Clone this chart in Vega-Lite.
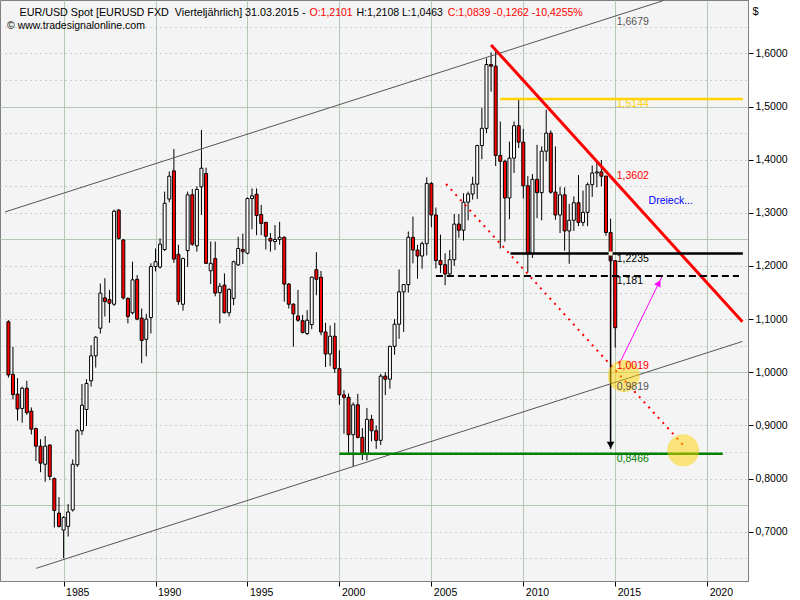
{
  "$schema": "https://vega.github.io/schema/vega-lite/v6.json",
  "width": 748,
  "height": 581,
  "autosize": "none",
  "padding": {"left": 0, "top": 0, "right": 52, "bottom": 19},
  "background": "#ffffff",
  "title": {
    "text": "© www.tradesignalonline.com",
    "anchor": "start",
    "frame": "group",
    "orient": "top",
    "offset": -33,
    "dx": 7,
    "fontSize": 10.5,
    "fontWeight": "normal",
    "color": "#000000"
  },
  "datasets": {
    "candles": [
      {"d": "1982-01-01", "o": 1.095, "h": 1.098, "l": 0.990, "c": 0.995},
      {"d": "1982-04-01", "o": 0.996, "h": 1.048, "l": 0.949, "c": 0.958},
      {"d": "1982-07-01", "o": 0.959, "h": 0.989, "l": 0.909, "c": 0.931},
      {"d": "1982-10-01", "o": 0.932, "h": 0.973, "l": 0.905, "c": 0.970},
      {"d": "1983-01-01", "o": 0.970, "h": 0.984, "l": 0.920, "c": 0.924},
      {"d": "1983-04-01", "o": 0.927, "h": 0.934, "l": 0.883, "c": 0.893},
      {"d": "1983-07-01", "o": 0.894, "h": 0.896, "l": 0.833, "c": 0.861},
      {"d": "1983-10-01", "o": 0.861, "h": 0.874, "l": 0.812, "c": 0.829},
      {"d": "1984-01-01", "o": 0.827, "h": 0.880, "l": 0.794, "c": 0.861},
      {"d": "1984-04-01", "o": 0.863, "h": 0.865, "l": 0.797, "c": 0.804},
      {"d": "1984-07-01", "o": 0.800, "h": 0.802, "l": 0.708, "c": 0.740},
      {"d": "1984-10-01", "o": 0.735, "h": 0.765, "l": 0.708, "c": 0.710},
      {"d": "1985-01-01", "o": 0.703, "h": 0.729, "l": 0.650, "c": 0.727},
      {"d": "1985-04-01", "o": 0.710, "h": 0.752, "l": 0.691, "c": 0.737},
      {"d": "1985-07-01", "o": 0.741, "h": 0.836, "l": 0.738, "c": 0.827},
      {"d": "1985-10-01", "o": 0.826, "h": 0.893, "l": 0.822, "c": 0.890},
      {"d": "1986-01-01", "o": 0.890, "h": 0.978, "l": 0.882, "c": 0.938},
      {"d": "1986-04-01", "o": 0.930, "h": 0.987, "l": 0.899, "c": 0.979},
      {"d": "1986-07-01", "o": 0.984, "h": 1.051, "l": 0.973, "c": 1.031},
      {"d": "1986-10-01", "o": 1.031, "h": 1.068, "l": 1.009, "c": 1.066},
      {"d": "1987-01-01", "o": 1.083, "h": 1.167, "l": 1.073, "c": 1.149},
      {"d": "1987-04-01", "o": 1.140, "h": 1.177, "l": 1.105, "c": 1.133},
      {"d": "1987-07-01", "o": 1.137, "h": 1.155, "l": 1.093, "c": 1.130},
      {"d": "1987-10-01", "o": 1.128, "h": 1.306, "l": 1.125, "c": 1.303},
      {"d": "1988-01-01", "o": 1.305, "h": 1.307, "l": 1.250, "c": 1.252},
      {"d": "1988-04-01", "o": 1.249, "h": 1.251, "l": 1.137, "c": 1.140},
      {"d": "1988-07-01", "o": 1.139, "h": 1.141, "l": 1.092, "c": 1.105},
      {"d": "1988-10-01", "o": 1.112, "h": 1.208, "l": 1.109, "c": 1.174},
      {"d": "1989-01-01", "o": 1.175, "h": 1.183, "l": 1.098, "c": 1.100},
      {"d": "1989-04-01", "o": 1.102, "h": 1.120, "l": 1.017, "c": 1.060},
      {"d": "1989-07-01", "o": 1.062, "h": 1.110, "l": 1.030, "c": 1.100},
      {"d": "1989-10-01", "o": 1.103, "h": 1.205, "l": 1.073, "c": 1.199},
      {"d": "1990-01-01", "o": 1.199, "h": 1.233, "l": 1.190, "c": 1.208},
      {"d": "1990-04-01", "o": 1.198, "h": 1.252, "l": 1.195, "c": 1.241},
      {"d": "1990-07-01", "o": 1.231, "h": 1.340, "l": 1.228, "c": 1.318},
      {"d": "1990-10-01", "o": 1.326, "h": 1.378, "l": 1.320, "c": 1.369},
      {"d": "1991-01-01", "o": 1.379, "h": 1.420, "l": 1.206, "c": 1.213},
      {"d": "1991-04-01", "o": 1.222, "h": 1.240, "l": 1.127, "c": 1.133},
      {"d": "1991-07-01", "o": 1.128, "h": 1.216, "l": 1.116, "c": 1.214},
      {"d": "1991-10-01", "o": 1.229, "h": 1.340, "l": 1.198, "c": 1.334},
      {"d": "1992-01-01", "o": 1.334, "h": 1.345, "l": 1.238, "c": 1.241},
      {"d": "1992-04-01", "o": 1.238, "h": 1.350, "l": 1.227, "c": 1.344},
      {"d": "1992-07-01", "o": 1.349, "h": 1.456, "l": 1.296, "c": 1.384},
      {"d": "1992-10-01", "o": 1.374, "h": 1.385, "l": 1.204, "c": 1.205},
      {"d": "1993-01-01", "o": 1.191, "h": 1.246, "l": 1.166, "c": 1.205},
      {"d": "1993-04-01", "o": 1.214, "h": 1.246, "l": 1.143, "c": 1.149},
      {"d": "1993-07-01", "o": 1.150, "h": 1.168, "l": 1.092, "c": 1.162},
      {"d": "1993-10-01", "o": 1.164, "h": 1.186, "l": 1.111, "c": 1.112},
      {"d": "1994-01-01", "o": 1.112, "h": 1.158, "l": 1.105, "c": 1.156},
      {"d": "1994-04-01", "o": 1.139, "h": 1.210, "l": 1.126, "c": 1.208},
      {"d": "1994-07-01", "o": 1.202, "h": 1.255, "l": 1.200, "c": 1.233},
      {"d": "1994-10-01", "o": 1.231, "h": 1.261, "l": 1.204, "c": 1.227},
      {"d": "1995-01-01", "o": 1.224, "h": 1.329, "l": 1.222, "c": 1.327},
      {"d": "1995-04-01", "o": 1.327, "h": 1.346, "l": 1.269, "c": 1.332},
      {"d": "1995-07-01", "o": 1.335, "h": 1.346, "l": 1.258, "c": 1.295},
      {"d": "1995-10-01", "o": 1.297, "h": 1.315, "l": 1.258, "c": 1.280},
      {"d": "1996-01-01", "o": 1.282, "h": 1.283, "l": 1.231, "c": 1.256},
      {"d": "1996-04-01", "o": 1.252, "h": 1.262, "l": 1.227, "c": 1.247},
      {"d": "1996-07-01", "o": 1.246, "h": 1.277, "l": 1.230, "c": 1.250},
      {"d": "1996-10-01", "o": 1.250, "h": 1.283, "l": 1.240, "c": 1.254},
      {"d": "1997-01-01", "o": 1.254, "h": 1.256, "l": 1.133, "c": 1.166},
      {"d": "1997-04-01", "o": 1.166, "h": 1.168, "l": 1.120, "c": 1.128},
      {"d": "1997-07-01", "o": 1.128, "h": 1.130, "l": 1.048, "c": 1.110},
      {"d": "1997-10-01", "o": 1.106, "h": 1.155, "l": 1.095, "c": 1.098},
      {"d": "1998-01-01", "o": 1.097, "h": 1.108, "l": 1.073, "c": 1.075},
      {"d": "1998-04-01", "o": 1.073, "h": 1.117, "l": 1.070, "c": 1.098},
      {"d": "1998-07-01", "o": 1.090, "h": 1.180, "l": 1.081, "c": 1.179},
      {"d": "1998-10-01", "o": 1.193, "h": 1.226, "l": 1.145, "c": 1.175},
      {"d": "1999-01-01", "o": 1.1789, "h": 1.1907, "l": 1.0697, "c": 1.0759},
      {"d": "1999-04-01", "o": 1.0759, "h": 1.0930, "l": 1.0100, "c": 1.0344},
      {"d": "1999-07-01", "o": 1.0344, "h": 1.0880, "l": 1.0115, "c": 1.0679},
      {"d": "1999-10-01", "o": 1.0679, "h": 1.0930, "l": 0.9987, "c": 1.0070},
      {"d": "2000-01-01", "o": 1.0070, "h": 1.0414, "l": 0.9388, "c": 0.9574},
      {"d": "2000-04-01", "o": 0.9574, "h": 0.9665, "l": 0.8844, "c": 0.9528},
      {"d": "2000-07-01", "o": 0.9528, "h": 0.9600, "l": 0.8455, "c": 0.8826},
      {"d": "2000-10-01", "o": 0.8826, "h": 0.9434, "l": 0.8228, "c": 0.9388},
      {"d": "2001-01-01", "o": 0.9388, "h": 0.9594, "l": 0.8755, "c": 0.8776},
      {"d": "2001-04-01", "o": 0.8776, "h": 0.8950, "l": 0.8348, "c": 0.8475},
      {"d": "2001-07-01", "o": 0.8475, "h": 0.9330, "l": 0.8344, "c": 0.9114},
      {"d": "2001-10-01", "o": 0.9114, "h": 0.9200, "l": 0.8700, "c": 0.8900},
      {"d": "2002-01-01", "o": 0.8900, "h": 0.9000, "l": 0.8560, "c": 0.8720},
      {"d": "2002-04-01", "o": 0.8720, "h": 0.9970, "l": 0.8630, "c": 0.9928},
      {"d": "2002-07-01", "o": 0.9928, "h": 1.0000, "l": 0.9570, "c": 0.9870},
      {"d": "2002-10-01", "o": 0.9870, "h": 1.0500, "l": 0.9690, "c": 1.0488},
      {"d": "2003-01-01", "o": 1.0488, "h": 1.1000, "l": 1.0330, "c": 1.0905},
      {"d": "2003-04-01", "o": 1.0905, "h": 1.1935, "l": 1.0630, "c": 1.1513},
      {"d": "2003-07-01", "o": 1.1513, "h": 1.1660, "l": 1.0760, "c": 1.1650},
      {"d": "2003-10-01", "o": 1.1650, "h": 1.2650, "l": 1.1500, "c": 1.2540},
      {"d": "2004-01-01", "o": 1.2540, "h": 1.2930, "l": 1.2050, "c": 1.2301},
      {"d": "2004-04-01", "o": 1.2301, "h": 1.2400, "l": 1.1760, "c": 1.2188},
      {"d": "2004-07-01", "o": 1.2188, "h": 1.2460, "l": 1.1950, "c": 1.2420},
      {"d": "2004-10-01", "o": 1.2420, "h": 1.3667, "l": 1.2200, "c": 1.3554},
      {"d": "2005-01-01", "o": 1.3554, "h": 1.3580, "l": 1.2730, "c": 1.2960},
      {"d": "2005-04-01", "o": 1.2960, "h": 1.3100, "l": 1.1955, "c": 1.2103},
      {"d": "2005-07-01", "o": 1.2103, "h": 1.2590, "l": 1.1870, "c": 1.2025},
      {"d": "2005-10-01", "o": 1.2025, "h": 1.2240, "l": 1.1640, "c": 1.1849},
      {"d": "2006-01-01", "o": 1.1849, "h": 1.2300, "l": 1.1800, "c": 1.2119},
      {"d": "2006-04-01", "o": 1.2119, "h": 1.2980, "l": 1.2000, "c": 1.2789},
      {"d": "2006-07-01", "o": 1.2789, "h": 1.2980, "l": 1.2530, "c": 1.2673},
      {"d": "2006-10-01", "o": 1.2673, "h": 1.3370, "l": 1.2480, "c": 1.3201},
      {"d": "2007-01-01", "o": 1.3201, "h": 1.3400, "l": 1.2860, "c": 1.3354},
      {"d": "2007-04-01", "o": 1.3354, "h": 1.3680, "l": 1.3250, "c": 1.3541},
      {"d": "2007-07-01", "o": 1.3541, "h": 1.4280, "l": 1.3260, "c": 1.4266},
      {"d": "2007-10-01", "o": 1.4266, "h": 1.4970, "l": 1.4010, "c": 1.4590},
      {"d": "2008-01-01", "o": 1.4590, "h": 1.5905, "l": 1.4500, "c": 1.5790},
      {"d": "2008-04-01", "o": 1.5790, "h": 1.6020, "l": 1.5280, "c": 1.5760},
      {"d": "2008-07-01", "o": 1.5760, "h": 1.6038, "l": 1.3880, "c": 1.4080},
      {"d": "2008-10-01", "o": 1.4080, "h": 1.4720, "l": 1.2330, "c": 1.3970},
      {"d": "2009-01-01", "o": 1.3970, "h": 1.4000, "l": 1.2457, "c": 1.3280},
      {"d": "2009-04-01", "o": 1.3280, "h": 1.4340, "l": 1.2880, "c": 1.4030},
      {"d": "2009-07-01", "o": 1.4030, "h": 1.4720, "l": 1.3750, "c": 1.4640},
      {"d": "2009-10-01", "o": 1.4640, "h": 1.5144, "l": 1.4220, "c": 1.4330},
      {"d": "2010-01-01", "o": 1.4330, "h": 1.4580, "l": 1.3270, "c": 1.3510},
      {"d": "2010-04-01", "o": 1.3510, "h": 1.3690, "l": 1.1876, "c": 1.2230},
      {"d": "2010-07-01", "o": 1.2230, "h": 1.3730, "l": 1.2150, "c": 1.3630},
      {"d": "2010-10-01", "o": 1.3630, "h": 1.4280, "l": 1.2900, "c": 1.3380},
      {"d": "2011-01-01", "o": 1.3380, "h": 1.4250, "l": 1.2860, "c": 1.4160},
      {"d": "2011-04-01", "o": 1.4160, "h": 1.4940, "l": 1.3970, "c": 1.4500},
      {"d": "2011-07-01", "o": 1.4500, "h": 1.4550, "l": 1.3360, "c": 1.3390},
      {"d": "2011-10-01", "o": 1.3390, "h": 1.4250, "l": 1.2870, "c": 1.2960},
      {"d": "2012-01-01", "o": 1.2960, "h": 1.3490, "l": 1.2620, "c": 1.3340},
      {"d": "2012-04-01", "o": 1.3340, "h": 1.3480, "l": 1.2290, "c": 1.2660},
      {"d": "2012-07-01", "o": 1.2660, "h": 1.3170, "l": 1.2042, "c": 1.2860},
      {"d": "2012-10-01", "o": 1.2860, "h": 1.3310, "l": 1.2660, "c": 1.3190},
      {"d": "2013-01-01", "o": 1.3190, "h": 1.3710, "l": 1.2750, "c": 1.2820},
      {"d": "2013-04-01", "o": 1.2820, "h": 1.3420, "l": 1.2750, "c": 1.3010},
      {"d": "2013-07-01", "o": 1.3010, "h": 1.3570, "l": 1.2750, "c": 1.3530},
      {"d": "2013-10-01", "o": 1.3530, "h": 1.3890, "l": 1.3300, "c": 1.3750},
      {"d": "2014-01-01", "o": 1.3750, "h": 1.3970, "l": 1.3480, "c": 1.3770},
      {"d": "2014-04-01", "o": 1.3770, "h": 1.3995, "l": 1.3500, "c": 1.3690},
      {"d": "2014-07-01", "o": 1.3690, "h": 1.3700, "l": 1.2570, "c": 1.2630},
      {"d": "2014-10-01", "o": 1.2630, "h": 1.2890, "l": 1.2050, "c": 1.2098},
      {"d": "2015-01-01", "o": 1.2101, "h": 1.2108, "l": 1.0463, "c": 1.0839}
    ],
    "lines": [
      {"line": "Kanal oben", "d": "1981-10-26", "p": 1.3017},
      {"line": "Kanal oben", "d": "2017-08-20", "p": 1.6995},
      {"line": "Kanal unten", "d": "1983-07-08", "p": 0.6312},
      {"line": "Kanal unten", "d": "2021-12-01", "p": 1.0580},
      {"line": "1,5144", "d": "2008-10-01", "p": 1.5144},
      {"line": "1,5144", "d": "2021-12-10", "p": 1.5144},
      {"line": "Dreieck", "d": "2008-04-01", "p": 1.6159},
      {"line": "Dreieck", "d": "2021-12-01", "p": 1.0950},
      {"line": "1,2235", "d": "2009-04-20", "p": 1.2235},
      {"line": "1,2235", "d": "2021-12-10", "p": 1.2235},
      {"line": "1,181", "d": "2005-04-01", "p": 1.181},
      {"line": "1,181", "d": "2021-09-24", "p": 1.181},
      {"line": "Ziel", "d": "2005-10-20", "p": 1.3543},
      {"line": "Ziel", "d": "2018-10-12", "p": 0.8600},
      {"line": "0,8466", "d": "2000-01-01", "p": 0.8466},
      {"line": "0,8466", "d": "2020-11-06", "p": 0.8466},
      {"line": "Pullback", "d": "2015-02-24", "p": 1.0105},
      {"line": "Pullback", "d": "2017-07-13", "p": 1.1793},
      {"line": "Abwärts", "d": "2014-10-01", "p": 1.2235},
      {"line": "Abwärts", "d": "2014-10-01", "p": 0.8560}
    ],
    "heads": [
      {"head": "Abwärts", "d": "2014-10-01", "p": 0.8632},
      {"head": "Pullback", "d": "2017-05-16", "p": 1.1680}
    ],
    "circles": [
      {"d": "2015-06-20", "p": 0.993},
      {"d": "2018-09-12", "p": 0.8532}
    ],
    "anchors": [
      {"d": "2014-10-01", "p": 1.2235},
      {"d": "2015-02-24", "p": 1.0105}
    ],
    "labels": [
      {"t": "1,6679", "d": "2015-01-01", "p": 1.6679},
      {"t": "1,5144", "d": "2015-01-01", "p": 1.5144},
      {"t": "1,3602", "d": "2015-01-01", "p": 1.3602},
      {"t": "1,2235", "d": "2015-01-01", "p": 1.2235},
      {"t": "1,181", "d": "2015-01-01", "p": 1.181},
      {"t": "1,0019", "d": "2015-01-01", "p": 1.0019},
      {"t": "0,9819", "d": "2015-01-01", "p": 0.9819},
      {"t": "0,8466", "d": "2015-01-01", "p": 0.8466},
      {"t": "Dreieck...", "d": "2016-10-25", "p": 1.3223}
    ]
  },
  "layer": [
    {
      "layer": [
        {
          "data": {"name": "candles"},
          "mark": {"type": "rule", "color": "#000000", "strokeWidth": 1},
          "encoding": {
            "x": {
              "field": "d", "type": "temporal",
              "scale": {"type": "utc", "domain": [{"year": 1981, "month": 10, "date": 25, "utc": true}, {"year": 2021, "month": 12, "date": 13, "utc": true}]},
              "axis": {
                "orient": "bottom",
                "values": [{"year": 1985, "utc": true}, {"year": 1990, "utc": true}, {"year": 1995, "utc": true}, {"year": 2000, "utc": true}, {"year": 2005, "utc": true}, {"year": 2010, "utc": true}, {"year": 2015, "utc": true}, {"year": 2020, "utc": true}],
                "format": "%Y",
                "grid": true, "gridColor": "#b4c8b4", "gridWidth": 1,
                "domainColor": "#808080", "tickColor": "#000000", "tickSize": 5,
                "labelAlign": "left", "labelBaseline": "top", "labelPadding": 1, "labelOffset": 2,
                "labelFontSize": 10.5, "labelColor": "#000000", "labelFlush": false, "labelOverlap": false,
                "title": "O:1,2101", "titleColor": "#ff0000", "titleFontSize": 10.5, "titleFontWeight": "normal",
                "titleX": 309, "titleY": -565.5, "titleAlign": "left", "titleBaseline": "alphabetic"
              }
            },
            "y": {
              "field": "l", "type": "quantitative",
              "scale": {"domain": [0.6073, 1.7005], "zero": false, "nice": false},
              "axis": {
                "orient": "right",
                "values": [0.7, 0.8, 0.9, 1.0, 1.1, 1.2, 1.3, 1.4, 1.5, 1.6],
                "format": ".4f",
                "labelExpr": "replace(datum.label, '.', ',')",
                "grid": false,
                "ticks": true, "tickColor": "#000000", "tickSize": 5, "domainColor": "#808080",
                "labels": true, "labelPadding": 2, "labelAlign": "left", "labelBaseline": "middle",
                "labelFontSize": 10.5, "labelColor": "#000000", "labelFlush": false, "labelOverlap": false,
                "title": "$", "titleAngle": 0, "titleX": 4, "titleY": 14, "titleAlign": "left", "titleBaseline": "alphabetic",
                "titleFontSize": 11, "titleFontWeight": "normal", "titleColor": "#000000"
              }
            },
            "y2": {"field": "h"}
          }
        },
        {
          "data": {"name": "candles"},
          "mark": {"type": "bar", "size": 3, "stroke": "#000000", "strokeWidth": 1},
          "encoding": {
            "x": {"field": "d", "type": "temporal", "scale": {"type": "utc", "domain": [{"year": 1981, "month": 10, "date": 25, "utc": true}, {"year": 2021, "month": 12, "date": 13, "utc": true}]}},
            "y": {"field": "o", "type": "quantitative", "scale": {"domain": [0.6073, 1.7005], "zero": false, "nice": false}},
            "y2": {"field": "c"},
            "fill": {"condition": {"test": "datum.c < datum.o", "value": "#ff0000"}, "value": "#ffffff"}
          }
        },
        {
          "data": {"name": "lines"},
          "transform": [{"filter": "datum.line == 'Kanal oben' || datum.line == 'Kanal unten'"}],
          "mark": {"type": "line", "color": "#555555", "strokeWidth": 1},
          "encoding": {
            "x": {"field": "d", "type": "temporal", "scale": {"type": "utc", "domain": [{"year": 1981, "month": 10, "date": 25, "utc": true}, {"year": 2021, "month": 12, "date": 13, "utc": true}]}},
            "y": {"field": "p", "type": "quantitative", "scale": {"domain": [0.6073, 1.7005], "zero": false, "nice": false}},
            "detail": {"field": "line"}
          }
        },
        {
          "data": {"name": "lines"},
          "transform": [{"filter": "datum.line == '1,5144'"}],
          "mark": {"type": "line", "color": "#ffd200", "strokeWidth": 2.5},
          "encoding": {
            "x": {"field": "d", "type": "temporal", "scale": {"type": "utc", "domain": [{"year": 1981, "month": 10, "date": 25, "utc": true}, {"year": 2021, "month": 12, "date": 13, "utc": true}]}},
            "y": {"field": "p", "type": "quantitative", "scale": {"domain": [0.6073, 1.7005], "zero": false, "nice": false}}
          }
        },
        {
          "data": {"name": "lines"},
          "transform": [{"filter": "datum.line == 'Dreieck'"}],
          "mark": {"type": "line", "color": "#ff0000", "strokeWidth": 3},
          "encoding": {
            "x": {"field": "d", "type": "temporal", "scale": {"type": "utc", "domain": [{"year": 1981, "month": 10, "date": 25, "utc": true}, {"year": 2021, "month": 12, "date": 13, "utc": true}]}},
            "y": {"field": "p", "type": "quantitative", "scale": {"domain": [0.6073, 1.7005], "zero": false, "nice": false}}
          }
        },
        {
          "data": {"name": "lines"},
          "transform": [{"filter": "datum.line == '1,2235'"}],
          "mark": {"type": "line", "color": "#000000", "strokeWidth": 2.5},
          "encoding": {
            "x": {"field": "d", "type": "temporal", "scale": {"type": "utc", "domain": [{"year": 1981, "month": 10, "date": 25, "utc": true}, {"year": 2021, "month": 12, "date": 13, "utc": true}]}},
            "y": {"field": "p", "type": "quantitative", "scale": {"domain": [0.6073, 1.7005], "zero": false, "nice": false}}
          }
        },
        {
          "data": {"name": "lines"},
          "transform": [{"filter": "datum.line == '1,181'"}],
          "mark": {"type": "line", "color": "#000000", "strokeWidth": 2, "strokeDash": [7, 4]},
          "encoding": {
            "x": {"field": "d", "type": "temporal", "scale": {"type": "utc", "domain": [{"year": 1981, "month": 10, "date": 25, "utc": true}, {"year": 2021, "month": 12, "date": 13, "utc": true}]}},
            "y": {"field": "p", "type": "quantitative", "scale": {"domain": [0.6073, 1.7005], "zero": false, "nice": false}}
          }
        },
        {
          "data": {"name": "lines"},
          "transform": [{"filter": "datum.line == 'Ziel'"}],
          "mark": {"type": "line", "color": "#ff0000", "strokeWidth": 2, "strokeDash": [2, 5]},
          "encoding": {
            "x": {"field": "d", "type": "temporal", "scale": {"type": "utc", "domain": [{"year": 1981, "month": 10, "date": 25, "utc": true}, {"year": 2021, "month": 12, "date": 13, "utc": true}]}},
            "y": {"field": "p", "type": "quantitative", "scale": {"domain": [0.6073, 1.7005], "zero": false, "nice": false}}
          }
        },
        {
          "data": {"name": "lines"},
          "transform": [{"filter": "datum.line == '0,8466'"}],
          "mark": {"type": "line", "color": "#008000", "strokeWidth": 2.5},
          "encoding": {
            "x": {"field": "d", "type": "temporal", "scale": {"type": "utc", "domain": [{"year": 1981, "month": 10, "date": 25, "utc": true}, {"year": 2021, "month": 12, "date": 13, "utc": true}]}},
            "y": {"field": "p", "type": "quantitative", "scale": {"domain": [0.6073, 1.7005], "zero": false, "nice": false}}
          }
        },
        {
          "data": {"name": "lines"},
          "transform": [{"filter": "datum.line == 'Pullback'"}],
          "mark": {"type": "line", "color": "#ff00ff", "strokeWidth": 1},
          "encoding": {
            "x": {"field": "d", "type": "temporal", "scale": {"type": "utc", "domain": [{"year": 1981, "month": 10, "date": 25, "utc": true}, {"year": 2021, "month": 12, "date": 13, "utc": true}]}},
            "y": {"field": "p", "type": "quantitative", "scale": {"domain": [0.6073, 1.7005], "zero": false, "nice": false}}
          }
        },
        {
          "data": {"name": "lines"},
          "transform": [{"filter": "datum.line == 'Abwärts'"}],
          "mark": {"type": "line", "color": "#000000", "strokeWidth": 1.5},
          "encoding": {
            "x": {"field": "d", "type": "temporal", "scale": {"type": "utc", "domain": [{"year": 1981, "month": 10, "date": 25, "utc": true}, {"year": 2021, "month": 12, "date": 13, "utc": true}]}},
            "y": {"field": "p", "type": "quantitative", "scale": {"domain": [0.6073, 1.7005], "zero": false, "nice": false}}
          }
        },
        {
          "data": {"name": "heads"},
          "transform": [{"filter": "datum.head == 'Abwärts'"}],
          "mark": {"type": "point", "shape": "triangle-down", "filled": true, "color": "#000000", "size": 60, "opacity": 1},
          "encoding": {
            "x": {"field": "d", "type": "temporal", "scale": {"type": "utc", "domain": [{"year": 1981, "month": 10, "date": 25, "utc": true}, {"year": 2021, "month": 12, "date": 13, "utc": true}]}},
            "y": {"field": "p", "type": "quantitative", "scale": {"domain": [0.6073, 1.7005], "zero": false, "nice": false}}
          }
        },
        {
          "data": {"name": "heads"},
          "transform": [{"filter": "datum.head == 'Pullback'"}],
          "mark": {"type": "point", "shape": "triangle-up", "filled": true, "color": "#ff00ff", "size": 55, "angle": 27, "opacity": 1},
          "encoding": {
            "x": {"field": "d", "type": "temporal", "scale": {"type": "utc", "domain": [{"year": 1981, "month": 10, "date": 25, "utc": true}, {"year": 2021, "month": 12, "date": 13, "utc": true}]}},
            "y": {"field": "p", "type": "quantitative", "scale": {"domain": [0.6073, 1.7005], "zero": false, "nice": false}}
          }
        },
        {
          "data": {"name": "circles"},
          "mark": {"type": "point", "shape": "circle", "filled": true, "color": "#ffd400", "size": 1024, "opacity": 0.5},
          "encoding": {
            "x": {"field": "d", "type": "temporal", "scale": {"type": "utc", "domain": [{"year": 1981, "month": 10, "date": 25, "utc": true}, {"year": 2021, "month": 12, "date": 13, "utc": true}]}},
            "y": {"field": "p", "type": "quantitative", "scale": {"domain": [0.6073, 1.7005], "zero": false, "nice": false}}
          }
        },
        {
          "data": {"name": "anchors"},
          "mark": {"type": "point", "shape": "square", "filled": true, "color": "#fffbe0", "size": 16, "opacity": 1},
          "encoding": {
            "x": {"field": "d", "type": "temporal", "scale": {"type": "utc", "domain": [{"year": 1981, "month": 10, "date": 25, "utc": true}, {"year": 2021, "month": 12, "date": 13, "utc": true}]}},
            "y": {"field": "p", "type": "quantitative", "scale": {"domain": [0.6073, 1.7005], "zero": false, "nice": false}}
          }
        },
        {
          "data": {"name": "labels"},
          "transform": [{"filter": "datum.t != '1,3602' && datum.t != '1,0019' && datum.t != 'Dreieck...'"}],
          "mark": {"type": "text", "align": "left", "baseline": "top", "dx": 1.5, "fontSize": 10.5},
          "encoding": {
            "x": {"field": "d", "type": "temporal", "scale": {"type": "utc", "domain": [{"year": 1981, "month": 10, "date": 25, "utc": true}, {"year": 2021, "month": 12, "date": 13, "utc": true}]}},
            "y": {"field": "p", "type": "quantitative", "scale": {"domain": [0.6073, 1.7005], "zero": false, "nice": false}},
            "text": {"field": "t"},
            "color": {
              "field": "t", "type": "nominal", "legend": null,
              "scale": {"domain": ["1,6679", "1,5144", "1,2235", "1,181", "0,9819", "0,8466"], "range": ["#555555", "#ffd200", "#000000", "#000000", "#555555", "#008000"]}
            }
          }
        },
        {
          "data": {"name": "labels"},
          "transform": [{"filter": "datum.t == '1,3602' || datum.t == '1,0019'"}],
          "mark": {"type": "text", "align": "left", "baseline": "bottom", "dx": 1.5, "fontSize": 10.5, "color": "#ff0000"},
          "encoding": {
            "x": {"field": "d", "type": "temporal", "scale": {"type": "utc", "domain": [{"year": 1981, "month": 10, "date": 25, "utc": true}, {"year": 2021, "month": 12, "date": 13, "utc": true}]}},
            "y": {"field": "p", "type": "quantitative", "scale": {"domain": [0.6073, 1.7005], "zero": false, "nice": false}},
            "text": {"field": "t"}
          }
        },
        {
          "data": {"name": "labels"},
          "transform": [{"filter": "datum.t == 'Dreieck...'"}],
          "mark": {"type": "text", "align": "left", "baseline": "middle", "fontSize": 10.5, "color": "#0000ff"},
          "encoding": {
            "x": {"field": "d", "type": "temporal", "scale": {"type": "utc", "domain": [{"year": 1981, "month": 10, "date": 25, "utc": true}, {"year": 2021, "month": 12, "date": 13, "utc": true}]}},
            "y": {"field": "p", "type": "quantitative", "scale": {"domain": [0.6073, 1.7005], "zero": false, "nice": false}},
            "text": {"field": "t"}
          }
        }
      ]
    },
    {
      "data": {"name": "candles"},
      "mark": {"type": "point", "opacity": 0},
      "encoding": {
        "x": {
          "field": "d", "type": "temporal",
          "scale": {"type": "utc", "domain": [{"year": 1981, "month": 10, "date": 25, "utc": true}, {"year": 2021, "month": 12, "date": 13, "utc": true}]},
          "axis": {
            "orient": "top", "grid": false, "labels": false, "ticks": false, "domain": false,
            "title": "H:1,2108 L:1,0463", "titleColor": "#000000", "titleFontSize": 10.5, "titleFontWeight": "normal",
            "titleX": 356, "titleY": 15.5, "titleAlign": "left", "titleBaseline": "alphabetic"
          }
        },
        "y": {
          "field": "l", "type": "quantitative",
          "scale": {"domain": [0.6073, 1.7005], "zero": false, "nice": false},
          "axis": {
            "orient": "left",
            "values": [0.65, 0.7, 0.75, 0.8, 0.85, 0.9, 0.95, 1.0, 1.05, 1.1, 1.15, 1.2, 1.25, 1.3, 1.35, 1.4, 1.45, 1.5, 1.55, 1.6, 1.65],
            "grid": true,
            "gridColor": {"condition": {"test": "abs(datum.value * 4 - round(datum.value * 4)) < 0.001", "value": "#b4c8b4"}, "value": "#a8a8a8"},
            "gridDash": {"condition": {"test": "abs(datum.value * 4 - round(datum.value * 4)) < 0.001", "value": []}, "value": [1, 4]},
            "labels": false, "ticks": false, "domain": false,
            "title": "C:1,0839 -0,1262 -10,4255%", "titleColor": "#ff0000", "titleFontSize": 10.5, "titleFontWeight": "normal",
            "titleAngle": 0, "titleX": 447.3, "titleY": 15.5, "titleAlign": "left", "titleBaseline": "alphabetic"
          }
        }
      }
    },
    {
      "data": {"name": "candles"},
      "mark": {"type": "point", "opacity": 0},
      "encoding": {
        "x": {
          "field": "d", "type": "temporal",
          "scale": {"type": "utc", "domain": [{"year": 1981, "month": 10, "date": 25, "utc": true}, {"year": 2021, "month": 12, "date": 13, "utc": true}]},
          "axis": {
            "orient": "top", "grid": false, "labels": false, "ticks": false, "domain": false,
            "title": "EUR/USD Spot [EURUSD FXD \u00a0Vierteljährlich] 31.03.2015 -", "titleColor": "#000000", "titleFontSize": 10.75, "titleFontWeight": "normal",
            "titleX": 19, "titleY": 15.5, "titleAlign": "left", "titleBaseline": "alphabetic"
          }
        },
        "y": {
          "field": "l", "type": "quantitative",
          "scale": {"domain": [0.6073, 1.7005], "zero": false, "nice": false},
          "axis": null
        }
      }
    }
  ],
  "resolve": {"axis": {"x": "independent", "y": "independent"}},
  "config": {
    "font": "Liberation Sans",
    "view": {"fill": "#f4f4f4", "stroke": "#808080", "strokeWidth": 1}
  }
}
